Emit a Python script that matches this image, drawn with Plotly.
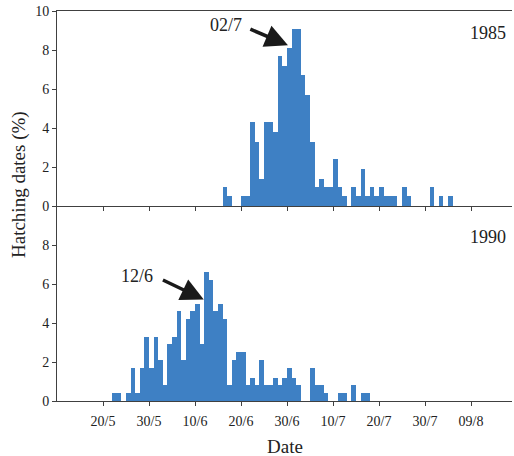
import plotly.graph_objects as go

# Daily hatching dates, day 0 = 20/5; one value per day (percent of hatchings)
tick_labels = ["20/5", "30/5", "10/6", "20/6", "30/6", "10/7", "20/7", "30/7", "09/8"]
tick_days = [0, 10, 20, 30, 40, 50, 60, 70, 80]

pct_1985 = [
    0, 0, 0, 0, 0, 0, 0, 0, 0, 0,
    0, 0, 0, 0, 0, 0, 0, 0, 0, 0,
    0, 0, 0, 0, 0, 0, 1.0, 0.5, 0, 0,
    0.5, 0.5, 4.3, 3.3, 1.4, 4.3, 4.3, 3.8, 7.7, 7.2,
    8.1, 9.1, 9.1, 6.7, 5.7, 3.3, 1.0, 1.4, 1.0, 1.0,
    2.4, 1.0, 0.5, 0, 1.0, 0.5, 1.9, 0.5, 1.0, 0.5,
    1.0, 0.5, 0.5, 0.5, 0, 1.0, 0.5, 0, 0, 0,
    0, 1.0, 0, 0.5, 0, 0.5,
]

pct_1990 = [
    0, 0, 0.4, 0.4, 0, 0.4, 1.7, 0.4, 1.7, 3.3,
    1.7, 3.3, 2.1, 0.8, 2.9, 3.3, 4.6, 2.1, 4.2, 4.6,
    5.0, 2.9, 6.6, 6.2, 4.6, 5.0, 4.2, 0.8, 2.1, 2.5,
    2.5, 0.8, 1.2, 0.8, 2.1, 0.8, 0.8, 1.2, 0.8, 1.2,
    1.7, 1.2, 0.8, 0, 0, 1.7, 0.8, 0.8, 0.4, 0,
    0, 0.4, 0.4, 0, 0.8, 0, 0.4, 0.4,
]

BAR = "#3E80C4"
AXIS = "#404040"
TEXT = "#222222"
FONT = "Liberation Serif"

W, H = 514, 456
L, R, T, B = 57, 2, 11, 55
X_RANGE = [-10, 88.9]

fig = go.Figure()
fig.add_trace(go.Bar(
    x=[d + 0.5 for d in range(len(pct_1985))], y=pct_1985, width=1,
    marker=dict(color=BAR, line=dict(width=0)), xaxis="x", yaxis="y",
    showlegend=False,
))
fig.add_trace(go.Bar(
    x=[d + 0.5 for d in range(len(pct_1990))], y=pct_1990, width=1,
    marker=dict(color=BAR, line=dict(width=0)), xaxis="x2", yaxis="y2",
    showlegend=False,
))

common_x = dict(
    range=X_RANGE, tickmode="array", tickvals=tick_days, ticktext=tick_labels,
    ticks="outside", ticklen=4, tickwidth=1, tickcolor=AXIS,
    showline=True, linecolor=AXIS, linewidth=1, showgrid=False, zeroline=False,
    tickfont=dict(family=FONT, size=14, color=TEXT),
)
common_y = dict(
    range=[0, 10], ticks="outside", ticklen=4, tickwidth=1, tickcolor=AXIS,
    showline=True, linecolor=AXIS, linewidth=1, showgrid=False, zeroline=False,
    tickfont=dict(family=FONT, size=14, color=TEXT),
)

fig.update_layout(
    width=W, height=H,
    margin=dict(l=L, r=R, t=T, b=B),
    paper_bgcolor="white", plot_bgcolor="white",
    bargap=0,
    xaxis=dict(common_x, domain=[0, 1], anchor="y", showticklabels=False, mirror=True),
    xaxis2=dict(common_x, domain=[0, 1], anchor="y2", ticklabelstandoff=3),
    yaxis=dict(common_y, domain=[0.5, 1], anchor="x",
               tickvals=[0, 2, 4, 6, 8, 10]),
    yaxis2=dict(common_y, domain=[0, 0.5], anchor="x2",
                tickvals=[0, 2, 4, 6, 8]),
)

plot_w = W - L - R
plot_h = H - T - B

annotations = [
    # axis titles
    dict(text="Date", xref="paper", yref="paper", x=0.5, y=-45 / plot_h,
         xanchor="center", yanchor="middle", showarrow=False,
         font=dict(family=FONT, size=19, color=TEXT)),
    dict(text="Hatching dates (%)", xref="paper", yref="paper",
         x=(19 - L) / plot_w, y=(H - B - 185) / plot_h, textangle=-90,
         xanchor="center", yanchor="middle", showarrow=False,
         font=dict(family=FONT, size=19, color=TEXT)),
    # year labels
    dict(text="1985", xref="paper", yref="paper", x=(508 - L) / plot_w,
         y=1 - 22 / plot_h, xanchor="right", yanchor="middle", showarrow=False,
         font=dict(family=FONT, size=18, color=TEXT)),
    dict(text="1990", xref="paper", yref="paper", x=(508 - L) / plot_w,
         y=0.5 - 31 / plot_h, xanchor="right", yanchor="middle", showarrow=False,
         font=dict(family=FONT, size=18, color=TEXT)),
    # peak markers
    dict(text="02/7", xref="x", yref="y", x=26.8, y=9.28, showarrow=False,
         xanchor="center", yanchor="middle",
         font=dict(family=FONT, size=18, color=TEXT)),
    dict(text="", xref="x", yref="y", x=40.2, y=8.25, axref="x", ayref="y",
         ax=31.7, ay=9.1, showarrow=True, arrowhead=2, arrowsize=1.3,
         arrowwidth=3.5, arrowcolor="#1a1a1a", standoff=0, startstandoff=0),
    dict(text="12/6", xref="x2", yref="y2", x=7.3, y=6.4, showarrow=False,
         xanchor="center", yanchor="middle",
         font=dict(family=FONT, size=18, color=TEXT)),
    dict(text="", xref="x2", yref="y2", x=21.9, y=5.2, axref="x2", ayref="y2",
         ax=12.7, ay=6.24, showarrow=True, arrowhead=2, arrowsize=1.3,
         arrowwidth=3.5, arrowcolor="#1a1a1a", standoff=0, startstandoff=0),
]
fig.update_layout(annotations=annotations)

fig.write_html("out.html")
